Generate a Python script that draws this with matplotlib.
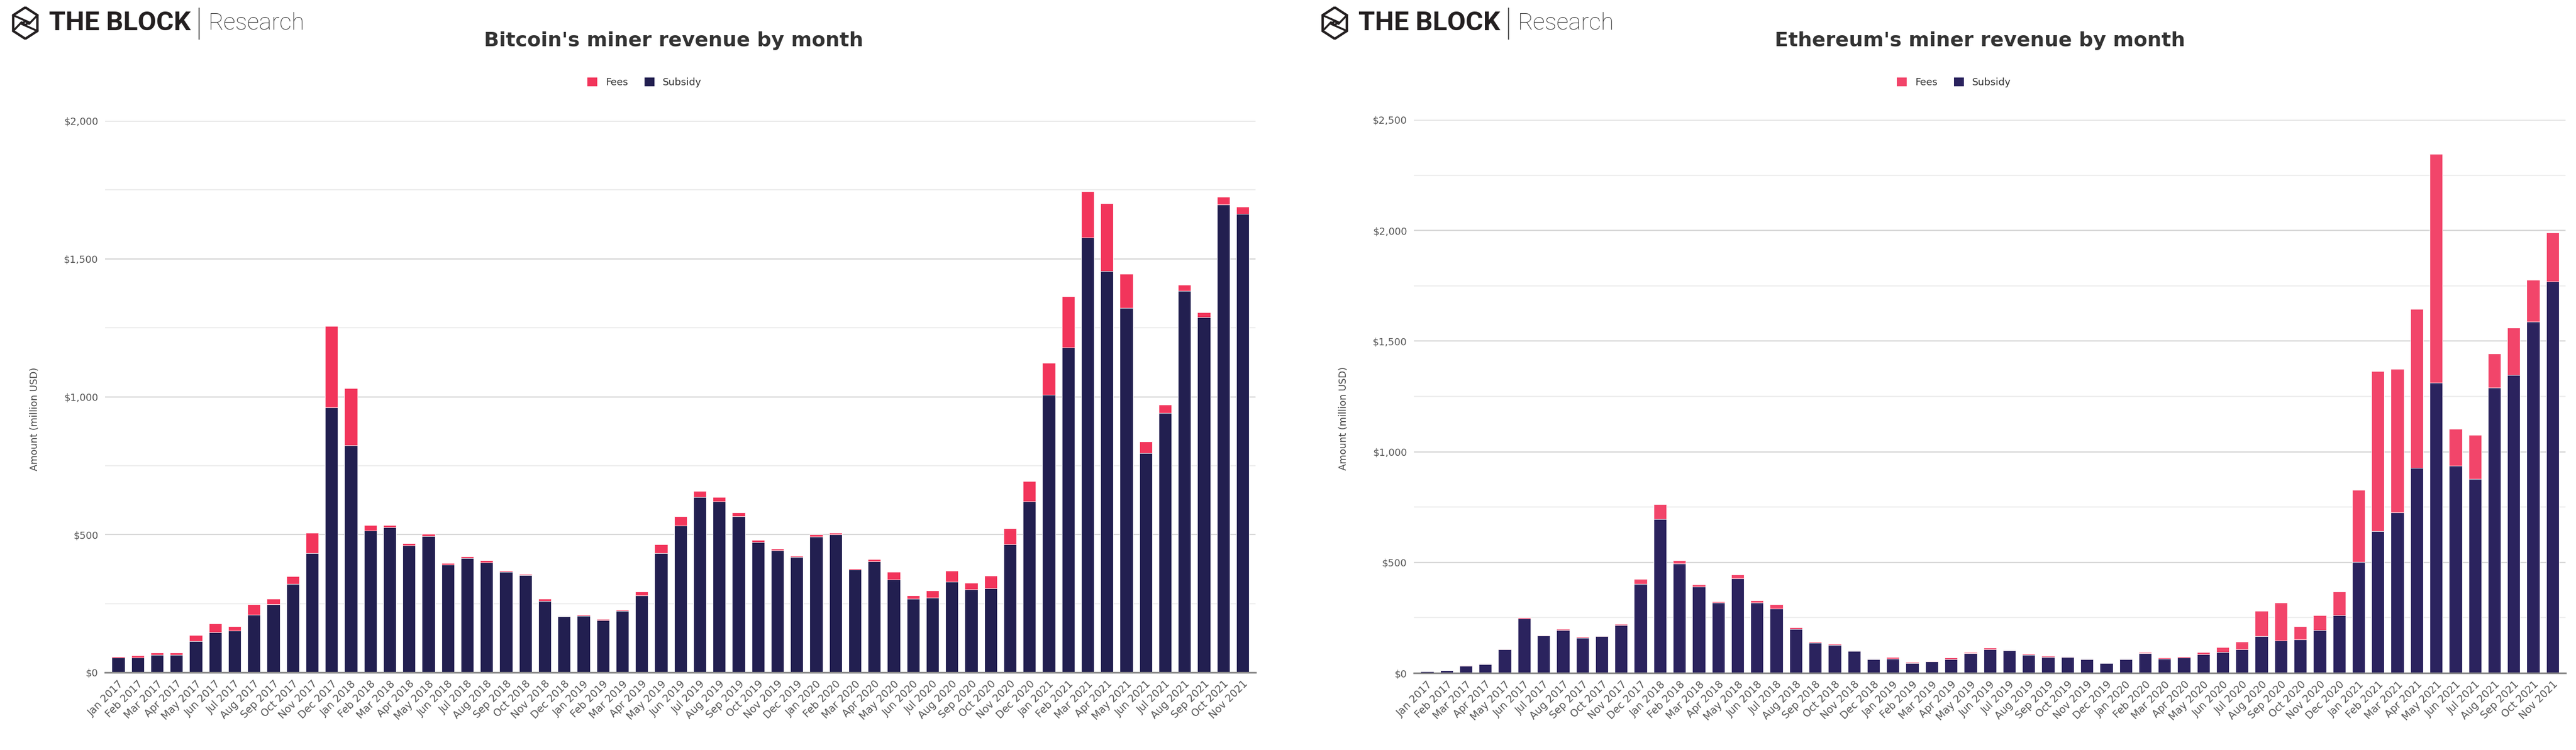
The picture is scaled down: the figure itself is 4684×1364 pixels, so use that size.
import matplotlib
matplotlib.use("Agg")
import matplotlib.pyplot as plt
from matplotlib.ticker import FuncFormatter, MultipleLocator
import numpy as np

months = [
    "Jan 2017", "Feb 2017", "Mar 2017", "Apr 2017", "May 2017", "Jun 2017", "Jul 2017", "Aug 2017", "Sep 2017", "Oct 2017", "Nov 2017", "Dec 2017",
    "Jan 2018", "Feb 2018", "Mar 2018", "Apr 2018", "May 2018", "Jun 2018", "Jul 2018", "Aug 2018", "Sep 2018", "Oct 2018", "Nov 2018", "Dec 2018",
    "Jan 2019", "Feb 2019", "Mar 2019", "Apr 2019", "May 2019", "Jun 2019", "Jul 2019", "Aug 2019", "Sep 2019", "Oct 2019", "Nov 2019", "Dec 2019",
    "Jan 2020", "Feb 2020", "Mar 2020", "Apr 2020", "May 2020", "Jun 2020", "Jul 2020", "Aug 2020", "Sep 2020", "Oct 2020", "Nov 2020", "Dec 2020",
    "Jan 2021", "Feb 2021", "Mar 2021", "Apr 2021", "May 2021", "Jun 2021", "Jul 2021", "Aug 2021", "Sep 2021", "Oct 2021", "Nov 2021",
]

btc_subsidy = [54, 54, 63, 63, 113, 146, 152, 209, 247, 321, 433, 961,
               824, 514, 527, 461, 495, 390, 415, 399, 364, 353, 260, 203,
               206, 189, 224, 279, 433, 532, 636, 621, 567, 473, 443, 418,
               493, 500, 372, 403, 336, 267, 271, 329, 301, 306, 464, 621,
               1006, 1178, 1577, 1456, 1322, 795, 942, 1384, 1289, 1696, 1663]
btc_fees = [4, 8, 8, 8, 22, 32, 15, 38, 20, 28, 74, 295,
            207, 21, 8, 7, 8, 6, 6, 8, 4, 4, 7, 2,
            4, 4, 4, 14, 32, 35, 22, 15, 13, 8, 6, 4,
            7, 7, 5, 8, 28, 12, 27, 39, 24, 44, 58, 72,
            117, 185, 167, 245, 124, 43, 29, 22, 17, 28, 25]

eth_subsidy = [7, 11.5, 33, 41, 107, 247, 169, 193, 158, 166, 215, 403,
               695, 494, 390, 317, 428, 317, 290, 200, 136, 126, 99, 63,
               64, 45, 53, 63, 89, 107, 102, 81, 72, 72, 63, 44,
               63, 90, 64, 69, 84, 94, 107, 166, 146, 151, 193, 260,
               502, 641, 725, 927, 1313, 937, 878, 1291, 1348, 1587, 1770]
eth_fees = [0.3, 0.5, 0.8, 1, 1.5, 5, 2, 5, 5, 2, 5, 22,
            67, 16, 10, 5, 17, 10, 21, 7, 5, 5, 2, 2,
            7, 5, 2, 6, 5, 7, 2, 5, 5, 2, 1, 1,
            1, 4, 5, 5, 10, 24, 34, 116, 171, 61, 67, 108,
            326, 724, 650, 717, 1034, 166, 197, 152, 212, 191, 220]

btc_ymax = 2000
eth_ymax = 2500

FEE_BTC = "#F2355B"
SUB_BTC = "#221F50"
FEE_ETH = "#F2456A"
SUB_ETH = "#2B235E"

W, H = 4684, 1364
fig = plt.figure(figsize=(W / 100, H / 100), dpi=100)
fig.patch.set_facecolor("white")


def draw_logo(x0):
    iax = fig.add_axes([(x0) / W, 1 - 72 / H, 58 / W, 60 / H])
    iax.set_xlim(-1.05, 1.05)
    iax.set_ylim(-1.05, 1.05)
    iax.axis("off")
    ang = np.deg2rad(np.arange(90, 450 + 1, 60))
    hx, hy = 0.92 * np.cos(ang), np.sin(ang)
    c = "#231f20"
    iax.plot(hx, hy, color=c, lw=3.2, solid_joinstyle="miter")
    iax.plot([hx[1], 0.25, 0.0, -0.25, hx[2]], [hy[1], 0.05, -0.12, 0.05, hy[2]], color=c, lw=2.6)
    iax.plot([hx[5], 0.25, 0.0, -0.25, hx[4]], [hy[5], -0.05, 0.12, -0.05, hy[4]], color=c, lw=2.6)
    fig.text((x0 + 72) / W, 1 - 42 / H, "THE BLOCK", fontsize=35, fontweight="bold",
             family=["Roboto", "DejaVu Sans"], color=c, ha="left", va="center")
    fig.add_artist(plt.Line2D([(x0 + 345) / W] * 2, [1 - 15 / H, 1 - 71 / H], color="#555555", lw=1.5))
    fig.text((x0 + 362) / W, 1 - 42 / H, "Research", fontsize=31, fontweight="light",
             family=["Roboto", "DejaVu Sans"], color="#333333", ha="left", va="center")


def draw_chart(rect, subsidy, fees, ymax, fee_c, sub_c, title, title_x, legend_x):
    ax = fig.add_axes(rect)
    x = np.arange(len(months))
    ax.bar(x, subsidy, width=0.66, color=sub_c, edgecolor="white", linewidth=0.6, zorder=3, label="Subsidy")
    ax.bar(x, fees, bottom=subsidy, width=0.66, color=fee_c, edgecolor="white", linewidth=0.6, zorder=3, label="Fees")
    ax.set_xlim(-0.68, len(months) - 0.33)
    ax.set_ylim(0, ymax)
    ax.yaxis.set_major_locator(MultipleLocator(500))
    ax.yaxis.set_minor_locator(MultipleLocator(250))
    ax.grid(axis="y", which="major", color="#d6d6d6", lw=1.6, zorder=0)
    ax.grid(axis="y", which="minor", color="#ededed", lw=1.6, zorder=0)
    ax.grid(axis="x", visible=False)
    for s in ["top", "right", "left"]:
        ax.spines[s].set_visible(False)
    ax.spines["bottom"].set_color("#8a8a8a")
    ax.spines["bottom"].set_linewidth(2.2)
    ax.spines["bottom"].set_zorder(4)
    ax.yaxis.set_major_formatter(FuncFormatter(lambda v, p: "${:,.0f}".format(v)))
    ax.tick_params(axis="y", which="both", length=0, pad=9, labelsize=13, labelcolor="#555555")
    ax.set_xticks(x)
    ax.set_xticklabels(months, rotation=45, ha="right", rotation_mode="anchor",
                       fontsize=13.5, color="#555555")
    ax.tick_params(axis="x", length=0, pad=8)
    ax.set_ylabel("Amount (million USD)", fontsize=12.5, color="#444444")
    ax.yaxis.set_label_coords(-0.057, 0.46)
    fig.text(title_x / W, 1 - 74 / H, title, fontsize=26, fontweight="bold",
             family=["DejaVu Sans"], color="#333333", ha="center", va="center")
    handles, labels = ax.get_legend_handles_labels()
    leg = fig.legend(handles[::-1], labels[::-1], loc="center", bbox_to_anchor=(legend_x / W, 1 - 150 / H),
                     ncol=2, frameon=False, fontsize=13, handlelength=1.0, handleheight=1.0,
                     handletextpad=0.8, columnspacing=1.7, labelcolor="#333333")
    for p in leg.get_patches():
        p.set_edgecolor("none")
    return ax


draw_logo(17)
draw_logo(2398)

draw_chart([191 / W, 1 - 1223 / H, 2092 / W, 1003 / H], btc_subsidy, btc_fees, btc_ymax,
           FEE_BTC, SUB_BTC, "Bitcoin's miner revenue by month", 1225, 1172)
draw_chart([2571 / W, 1 - 1224 / H, 2094 / W, 1006 / H], eth_subsidy, eth_fees, eth_ymax,
           FEE_ETH, SUB_ETH, "Ethereum's miner revenue by month", 3600, 3553)

fig.savefig("out.png", dpi=100, facecolor="white")
